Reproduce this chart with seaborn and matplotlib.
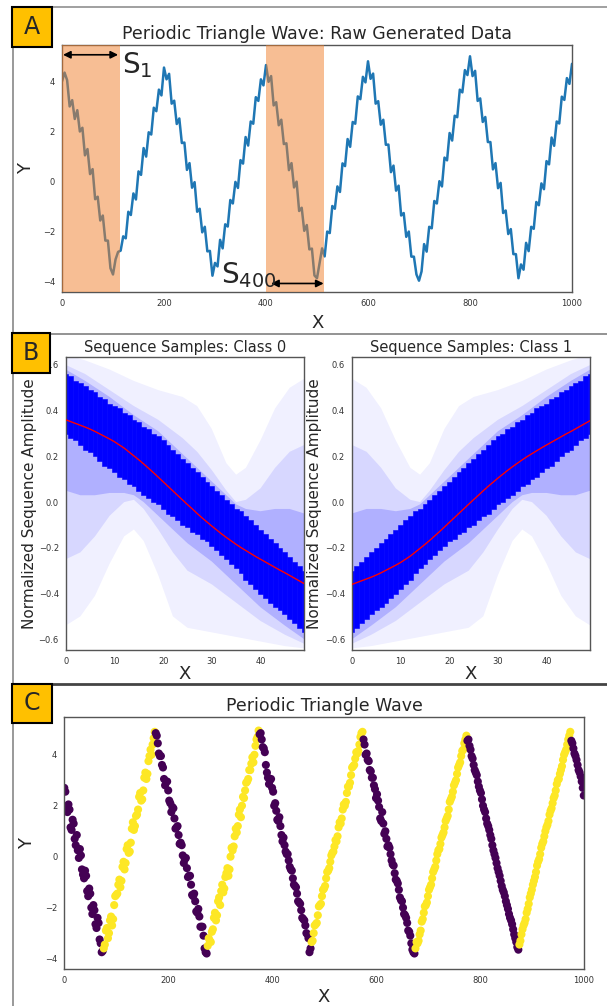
import matplotlib
matplotlib.use("Agg")
import matplotlib.pyplot as plt
import numpy as np
import seaborn as sns
from matplotlib.lines import Line2D
from matplotlib.patches import Rectangle

sns.set_style("white")
plt.rcParams["font.family"] = ["DejaVu Sans"]

# ---------------- data ----------------
# Panel A: raw generated triangle wave, read every 5 x-units
raw_step = 5
raw_y = [
    4.00, 4.35, 4.05, 3.00, 3.25, 2.50, 2.85, 2.00, 2.15, 1.05, 1.30, 0.30, 0.50, -0.70, -0.60, -1.55, -1.35, -2.35, -2.35, -3.45,
    -3.70, -3.10, -2.80, -2.75, -2.18, -2.26, -1.20, -1.33, -0.47, -0.71, 0.41, 0.27, 1.34, 1.00, 1.97, 1.88, 2.95, 2.81, 3.67, 3.44,
    4.55, 4.08, 4.30, 3.11, 3.23, 2.30, 2.52, 1.54, 1.56, 0.47, 0.74, -0.24, -0.02, -1.20, -1.08, -2.02, -1.80, -2.78, -2.76, -3.75,
    -3.24, -3.38, -2.32, -2.66, -1.70, -1.79, -0.73, -0.87, -0.01, -0.25, 0.86, 0.72, 1.78, 1.44, 2.40, 2.31, 3.37, 3.22, 4.08, 3.84,
    4.65, 3.98, 4.21, 3.04, 3.17, 2.25, 2.47, 1.50, 1.53, 0.46, 0.74, -0.23, 0.00, -1.17, -1.04, -1.96, -1.73, -2.70, -2.67, -3.74,
    -3.85, -3.25, -2.66, -2.98, -1.99, -2.05, -0.97, -1.08, -0.19, -0.41, 0.73, 0.62, 1.70, 1.39, 2.38, 2.31, 3.40, 3.29, 4.18, 3.96,
    4.80, 4.10, 4.31, 3.11, 3.21, 2.27, 2.47, 1.47, 1.48, 0.38, 0.64, -0.36, -0.16, -1.35, -1.25, -2.20, -1.99, -2.99, -2.99, -3.70,
    -3.95, -3.58, -2.49, -2.79, -1.80, -1.86, -0.77, -0.87, 0.02, -0.19, 0.96, 0.85, 1.94, 1.64, 2.63, 2.57, 3.67, 3.56, 4.45, 4.25,
    5.00, 4.21, 4.42, 3.22, 3.32, 2.38, 2.58, 1.58, 1.58, 0.49, 0.74, -0.26, -0.05, -1.25, -1.15, -2.09, -1.89, -2.89, -2.89, -3.85,
    -3.30, -3.51, -2.44, -2.77, -1.80, -1.88, -0.81, -0.94, -0.07, -0.30, 0.82, 0.69, 1.76, 1.43, 2.40, 2.32, 3.39, 3.26, 4.13, 3.90,
    4.70,
]
window_spans = [(0, 114), (400, 514)]

# Panel B: sequence samples (core band, density contours, mean)
seq_x = list(range(50))
core_up_0 = [0.56, 0.55, 0.53, 0.52, 0.51, 0.49, 0.48, 0.46, 0.45, 0.43, 0.42, 0.41, 0.39, 0.38, 0.36, 0.35, 0.33,
             0.32, 0.30, 0.29, 0.27, 0.25, 0.23, 0.21, 0.19, 0.17, 0.15, 0.13, 0.11, 0.09, 0.07, 0.05, 0.03, 0.01,
             -0.01, -0.03, -0.04, -0.06, -0.08, -0.10, -0.12, -0.14, -0.16, -0.18, -0.20, -0.22, -0.24, -0.26, -0.28, -0.30]
core_lo_0 = [0.30, 0.28, 0.27, 0.25, 0.23, 0.22, 0.20, 0.18, 0.16, 0.15, 0.13, 0.11, 0.10, 0.08, 0.07, 0.05, 0.03,
             0.02, 0.00, -0.01, -0.03, -0.05, -0.06, -0.08, -0.10, -0.11, -0.13, -0.14, -0.16, -0.17, -0.19, -0.21,
             -0.23, -0.25, -0.27, -0.29, -0.31, -0.34, -0.36, -0.38, -0.40, -0.42, -0.44, -0.46, -0.47, -0.49, -0.51,
             -0.53, -0.55, -0.57]
core_up_1 = [-0.30, -0.28, -0.26, -0.24, -0.22, -0.20, -0.18, -0.16, -0.14, -0.12, -0.10, -0.08, -0.06, -0.04, -0.03,
             -0.01, 0.01, 0.03, 0.05, 0.07, 0.09, 0.11, 0.13, 0.15, 0.17, 0.19, 0.21, 0.23, 0.25, 0.27, 0.29, 0.30,
             0.32, 0.33, 0.35, 0.36, 0.38, 0.39, 0.41, 0.42, 0.43, 0.45, 0.46, 0.48, 0.49, 0.51, 0.52, 0.53, 0.55, 0.56]
core_lo_1 = [-0.57, -0.55, -0.53, -0.51, -0.49, -0.47, -0.46, -0.44, -0.42, -0.40, -0.38, -0.36, -0.34, -0.31, -0.29,
             -0.27, -0.25, -0.23, -0.21, -0.19, -0.17, -0.16, -0.14, -0.13, -0.11, -0.10, -0.08, -0.06, -0.05, -0.03,
             -0.01, 0.00, 0.02, 0.03, 0.05, 0.07, 0.08, 0.10, 0.11, 0.13, 0.15, 0.16, 0.18, 0.20, 0.22, 0.23, 0.25,
             0.27, 0.28, 0.30]
mean_0 = [0.360, 0.352, 0.344, 0.336, 0.328, 0.319, 0.309, 0.298, 0.287, 0.276, 0.264, 0.250, 0.236, 0.219, 0.202,
          0.185, 0.167, 0.148, 0.129, 0.109, 0.089, 0.069, 0.049, 0.029, 0.009, -0.011, -0.030, -0.050, -0.069,
          -0.087, -0.105, -0.122, -0.139, -0.155, -0.170, -0.185, -0.199, -0.212, -0.225, -0.238, -0.250, -0.262,
          -0.274, -0.286, -0.298, -0.309, -0.321, -0.333, -0.345, -0.357]
mean_1 = [-0.360, -0.352, -0.344, -0.336, -0.328, -0.319, -0.309, -0.298, -0.287, -0.276, -0.264, -0.250, -0.236,
          -0.219, -0.202, -0.185, -0.167, -0.148, -0.129, -0.109, -0.089, -0.069, -0.049, -0.029, -0.009, 0.011,
          0.030, 0.050, 0.069, 0.087, 0.105, 0.122, 0.139, 0.155, 0.170, 0.185, 0.199, 0.212, 0.225, 0.238, 0.250,
          0.262, 0.274, 0.286, 0.298, 0.309, 0.321, 0.333, 0.345, 0.357]

# density contours (outer, mid, inner), read at knots
knots_a = [0, 3, 6, 9, 12, 14, 16, 19, 22, 25, 30, 35, 40, 45, 49]
knots_b = [0, 4, 9, 14, 19, 24, 27, 30, 33, 35, 37, 40, 43, 46, 49]
# class 0: upper contours on knots_b, lower contours on knots_a
up_0 = [
    [0.645, 0.62, 0.58, 0.53, 0.49, 0.46, 0.42, 0.32, 0.17, 0.12, 0.15, 0.27, 0.41, 0.50, 0.54],
    [0.60, 0.56, 0.49, 0.42, 0.36, 0.28, 0.22, 0.14, 0.05, 0.00, 0.01, 0.06, 0.15, 0.22, 0.25],
    [0.58, 0.53, 0.46, 0.38, 0.31, 0.21, 0.15, 0.09, 0.03, -0.01, -0.03, -0.04, -0.03, -0.03, -0.05],
]
lo_0 = [
    [-0.54, -0.50, -0.41, -0.27, -0.15, -0.12, -0.17, -0.32, -0.50, -0.55, -0.57, -0.59, -0.61, -0.63, -0.64],
    [-0.25, -0.22, -0.15, -0.06, 0.00, 0.01, -0.03, -0.12, -0.22, -0.30, -0.36, -0.44, -0.52, -0.58, -0.62],
    [0.05, 0.03, 0.03, 0.04, 0.04, 0.03, 0.00, -0.06, -0.12, -0.18, -0.26, -0.36, -0.46, -0.54, -0.60],
]
# class 1: upper contours on knots_a, lower contours on knots_b
up_1 = [
    [0.54, 0.50, 0.41, 0.27, 0.15, 0.12, 0.17, 0.32, 0.42, 0.46, 0.49, 0.53, 0.58, 0.62, 0.645],
    [0.25, 0.22, 0.15, 0.06, 0.01, 0.00, 0.05, 0.14, 0.22, 0.28, 0.36, 0.42, 0.49, 0.56, 0.60],
    [-0.05, -0.03, -0.03, -0.04, -0.03, -0.01, 0.03, 0.09, 0.15, 0.21, 0.31, 0.38, 0.46, 0.53, 0.58],
]
lo_1 = [
    [-0.64, -0.63, -0.61, -0.59, -0.57, -0.55, -0.50, -0.32, -0.17, -0.12, -0.15, -0.27, -0.41, -0.50, -0.54],
    [-0.62, -0.58, -0.52, -0.44, -0.36, -0.30, -0.22, -0.12, -0.03, 0.01, 0.00, -0.06, -0.15, -0.22, -0.25],
    [-0.60, -0.54, -0.46, -0.36, -0.26, -0.18, -0.12, -0.06, 0.00, 0.03, 0.04, 0.04, 0.03, 0.03, 0.05],
]

# Panel C: labelled triangle wave, read every 4 x-units (x = 0, 4, ...)
lab_step = 4
lab_y = [
    2.70, 1.95, 2.05, 1.15, 1.45, 0.70, 0.85, -0.05, 0.05, -0.70, -0.55, -1.35, -1.25, -2.00, -1.90, -2.65, -2.40, -3.25, -3.75, -3.60, -2.90, -3.20, -2.50, -2.70, -1.90,
    -1.50, -1.10, -1.20, -0.40, -0.50, 0.30, 0.15, 0.55, 1.35, 1.20, 1.65, 2.35, 2.20, 2.60, 3.30, 3.25, 3.95, 4.00, 4.65, 4.85, 4.45, 3.95, 3.60, 3.05, 2.95,
    2.60, 2.10, 1.95, 1.50, 1.15, 0.85, 0.55, 0.05, -0.10, -0.45, -0.75, -1.10, -1.55, -1.75, -2.20, -2.35, -2.75, -3.10, -3.75, -3.50, -3.30, -2.95, -2.40, -2.50, -1.75,
    -1.90, -1.10, -1.25, -0.65, -0.75, 0.00, 0.25, 0.80, 0.95, 1.65, 1.55, 2.35, 2.60, 2.95, 3.40, 3.65, 3.70, 4.35, 4.70, 4.80, 4.60, 4.25, 3.60, 3.10, 3.00,
    2.70, 2.00, 1.80, 1.40, 1.20, 0.60, 0.45, 0.10, -0.15, -0.50, -0.85, -1.15, -1.45, -1.80, -2.10, -2.45, -2.70, -3.05, -3.75, -3.35, -3.00, -2.65, -2.30, -1.90, -1.55,
    -1.25, -0.85, -0.55, -0.20, 0.15, 0.40, 0.60, 1.15, 1.30, 1.85, 2.00, 2.50, 2.75, 3.20, 3.55, 3.85, 4.05, 4.40, 4.85, 4.60, 4.00, 3.80, 3.40, 3.10, 2.80,
    2.30, 2.20, 1.50, 1.75, 0.90, 0.70, 0.45, 0.10, -0.30, -0.65, -0.95, -1.30, -1.70, -2.00, -2.30, -2.60, -2.95, -3.40, -3.75, -3.60, -3.40, -3.05, -2.55, -2.20, -1.90,
    -1.55, -1.20, -0.85, -0.50, -0.15, 0.25, 0.50, 0.85, 1.15, 1.50, 1.85, 2.25, 2.55, 2.90, 3.25, 3.60, 3.95, 4.20, 4.60, 4.55, 4.35, 3.95, 3.60, 3.30, 2.95,
    2.60, 2.25, 1.85, 1.50, 1.20, 0.85, 0.45, 0.10, -0.25, -0.60, -0.95, -1.30, -1.55, -1.90, -2.25, -2.50, -2.85, -3.20, -3.55, -3.45, -3.05, -2.70, -2.45, -2.05, -1.60,
    -1.30, -0.95, -0.60, -0.20, 0.10, 0.50, 0.80, 1.15, 1.40, 1.80, 2.10, 2.40, 2.85, 3.05, 3.40, 3.80, 4.10, 4.40, 4.75, 4.55, 4.25, 3.95, 3.60, 3.30, 2.95,
    2.40,
]
# second pass of readings, between the first ones (x = 2, 6, ...)
lab_y2 = [
    2.55, 1.75, 1.85, 1.05, 1.30, 0.45, 0.25, 0.30, -0.50, -0.85, -0.75, -1.55, -1.45, -2.25, -2.10, -2.80, -2.60, -3.40, -3.70, -3.45, -2.80, -3.00, -2.35, -2.45, -1.55,
    -1.45, -0.90, -0.95, -0.20, -0.25, 0.45, 0.20, 1.10, 1.05, 1.60, 1.85, 2.50, 2.25, 3.10, 3.05, 3.75, 4.20, 4.40, 4.90, 4.75, 4.05, 3.95, 3.50, 2.80, 2.95,
    2.20, 1.75, 1.90, 1.10, 1.20, 0.50, 0.45, -0.25, -0.05, -0.80, -0.75, -1.50, -1.45, -2.15, -2.05, -2.75, -2.75, -3.60, -3.80, -3.20, -3.35, -2.85, -2.20, -2.30, -1.60,
    -1.35, -1.40, -0.80, -0.45, -0.50, 0.35, 0.40, 1.10, 1.20, 1.85, 2.00, 2.30, 2.90, 3.05, 3.40, 3.90, 4.00, 4.60, 4.95, 4.85, 4.30, 4.10, 3.30, 2.85, 3.05,
    2.55, 2.10, 1.45, 1.55, 0.85, 0.75, 0.20, 0.10, -0.40, -0.55, -1.10, -1.20, -1.75, -1.85, -2.40, -2.50, -3.00, -3.20, -3.60, -3.30, -2.70, -2.60, -1.95, -1.85, -1.30,
    -1.15, -0.60, -0.45, 0.05, 0.20, 0.65, 0.80, 1.35, 1.50, 2.05, 2.15, 2.75, 2.90, 3.50, 3.60, 4.10, 4.15, 4.70, 4.90, 4.40, 4.05, 3.75, 3.35, 3.10, 2.65,
    2.45, 1.95, 1.40, 1.30, 1.00, 0.40, 0.35, -0.15, -0.35, -0.90, -1.05, -1.60, -1.75, -2.25, -2.40, -2.90, -3.10, -3.65, -3.80, -3.35, -3.30, -2.90, -2.45, -1.95, -1.80,
    -1.30, -1.10, -0.60, -0.40, 0.10, 0.30, 0.75, 0.95, 1.40, 1.60, 2.15, 2.35, 2.80, 3.00, 3.50, 3.70, 4.15, 4.45, 4.75, 4.60, 4.20, 3.85, 3.40, 3.20, 2.75,
    2.50, 2.00, 1.75, 1.30, 1.05, 0.70, 0.25, -0.05, -0.45, -0.75, -1.15, -1.40, -1.75, -2.05, -2.40, -2.65, -3.05, -3.35, -3.65, -3.30, -2.85, -2.60, -2.20, -1.85, -1.45,
    -1.10, -0.80, -0.35, -0.10, 0.35, 0.60, 1.00, 1.25, 1.65, 1.90, 2.30, 2.60, 3.00, 3.25, 3.55, 4.00, 4.20, 4.60, 4.90, 4.45, 4.05, 3.80, 3.40, 3.15, 2.70,
]
# class switches (x where the label flips), class 0 first
class_switch = [75, 175, 275, 375, 475, 575, 675, 775, 875, 975]
class_colors = {0: "#440154", 1: "#fde725"}

# ---------------- figure ----------------
W, H = 607, 1006
fig = plt.figure(figsize=(W / 100, H / 100), dpi=100)


def fx(px):
    return px / W


def fy(py):
    return 1 - py / H


def style_axes(ax):
    for s in ax.spines.values():
        s.set_color("#555555")
        s.set_linewidth(1.0)
    ax.tick_params(labelsize=6, length=3, width=0.8, colors="#333333", pad=2)


# --- Panel A
axA = fig.add_axes([fx(62), fy(292), fx(510), 247 / H])
raw_x = np.arange(len(raw_y)) * raw_step
sns.lineplot(x=raw_x, y=raw_y, ax=axA, color="#1f77b4", lw=1.8, zorder=2)
for a, b in window_spans:
    axA.axvspan(a, b, color="#f07f2a", alpha=0.5, lw=0, zorder=3)
axA.set_xlim(0, 1000)
axA.set_ylim(-4.4, 5.45)
axA.set_xticks([0, 200, 400, 600, 800, 1000])
axA.set_yticks([-4, -2, 0, 2, 4])
axA.set_title("Periodic Triangle Wave: Raw Generated Data", fontsize=12.5, pad=4)
axA.set_xlabel("X", fontsize=13)
axA.set_ylabel("Y", fontsize=13)
axA.xaxis.set_label_coords(0.502, -0.089)
axA.yaxis.set_label_coords(-0.053, 0.5)
style_axes(axA)
arrow = dict(arrowstyle="<|-|>", color="black", lw=1.2, mutation_scale=11, shrinkA=0, shrinkB=0)
axA.annotate("", xy=(2, 5.06), xytext=(110, 5.06), arrowprops=arrow, zorder=5)
axA.annotate("", xy=(410, -4.06), xytext=(513, -4.06), arrowprops=arrow, zorder=5)
axA.text(117, 4.32, r"$\mathregular{S_{1}}$", fontsize=20, ha="left", va="baseline", zorder=6)
axA.text(311, -4.03, r"$\mathregular{S_{400}}$", fontsize=20, ha="left", va="baseline", zorder=6)

# --- Panel B
b_axes = [
    fig.add_axes([fx(65.8), fy(650), fx(238.5), 293.3 / H]),
    fig.add_axes([fx(352), fy(650), fx(238.4), 293.3 / H]),
]
b_sets = [
    ("Sequence Samples: Class 0", core_up_0, core_lo_0, mean_0, knots_b, up_0, knots_a, lo_0),
    ("Sequence Samples: Class 1", core_up_1, core_lo_1, mean_1, knots_a, up_1, knots_b, lo_1),
]
layer_alpha = [0.06, 0.10, 0.18]
for ax, (title, cu, cl, mean, ku, ups, kl, los) in zip(b_axes, b_sets):
    for up, lo, a in zip(ups, los, layer_alpha):
        px = list(ku) + list(kl)[::-1]
        py = list(up) + list(lo)[::-1]
        ax.fill(px, py, color="blue", alpha=a, lw=0, zorder=1)
    ax.bar(seq_x, np.array(cu) - np.array(cl), bottom=cl, width=1.0,
           color="blue", edgecolor="blue", lw=0.4, zorder=2)
    sns.lineplot(x=seq_x, y=mean, ax=ax, color="red", lw=1.0, zorder=3)
    ax.set_xlim(0, 49)
    ax.set_ylim(-0.647, 0.636)
    ax.set_xticks([0, 10, 20, 30, 40])
    ax.set_yticks([-0.6, -0.4, -0.2, 0.0, 0.2, 0.4, 0.6])
    ax.set_title(title, fontsize=10.5, pad=3.6)
    ax.set_xlabel("X", fontsize=13)
    ax.set_ylabel("Normalized Sequence Amplitude", fontsize=11)
    ax.xaxis.set_label_coords(0.4985, -0.051)
    style_axes(ax)
b_axes[0].yaxis.set_label_coords(-0.12, 0.5)
b_axes[1].yaxis.set_label_coords(-0.127, 0.5)

# --- Panel C
axC = fig.add_axes([fx(64.3), fy(969.3), fx(519.5), 252 / H])
lab_x = np.r_[np.arange(len(lab_y)) * lab_step, np.arange(len(lab_y2)) * lab_step + lab_step / 2]
lab_all = np.r_[lab_y, lab_y2]
order = np.argsort(lab_x)
lab_x, lab_all = lab_x[order], lab_all[order]
lab_cls = np.searchsorted(class_switch, lab_x) % 2
sns.scatterplot(x=lab_x, y=lab_all, hue=lab_cls, palette=class_colors, ax=axC,
                s=34, edgecolor="none", legend=False, zorder=2)
axC.set_xlim(0, 1000)
axC.set_ylim(-4.42, 5.47)
axC.set_xticks([0, 200, 400, 600, 800, 1000])
axC.set_yticks([-4, -2, 0, 2, 4])
axC.set_title("Periodic Triangle Wave", fontsize=12.5, pad=4.8)
axC.set_xlabel("X", fontsize=13)
axC.set_ylabel("Y", fontsize=13)
axC.xaxis.set_label_coords(0.5, -0.074)
axC.yaxis.set_label_coords(-0.0545, 0.5)
style_axes(axC)

# --- frame lines and panel letters
fig.add_artist(Line2D([fx(52), 1], [fy(7), fy(7)], color="#999999", lw=1.3))
fig.add_artist(Line2D([fx(13), fx(13)], [fy(47), 0], color="#888888", lw=1.2))
fig.add_artist(Line2D([fx(50), 1], [fy(333.5), fy(333.5)], color="#8a8a8a", lw=1.3))
fig.add_artist(Line2D([fx(50), 1], [fy(683.5), fy(683.5)], color="#444444", lw=2.0))
for letter, (x0, y0, x1, y1) in zip("ABC", [(12, 7, 52, 47), (12, 333, 50, 373), (12, 684, 52, 723)]):
    fig.add_artist(Rectangle((fx(x0), fy(y1)), fx(x1 - x0), (y1 - y0) / H,
                             facecolor="#FFC000", edgecolor="black", lw=1.5, zorder=10))
    fig.text(fx((x0 + x1) / 2), fy((y0 + y1) / 2), letter, fontsize=17,
             ha="center", va="center", zorder=11)

fig.savefig("out.png", dpi=100)
